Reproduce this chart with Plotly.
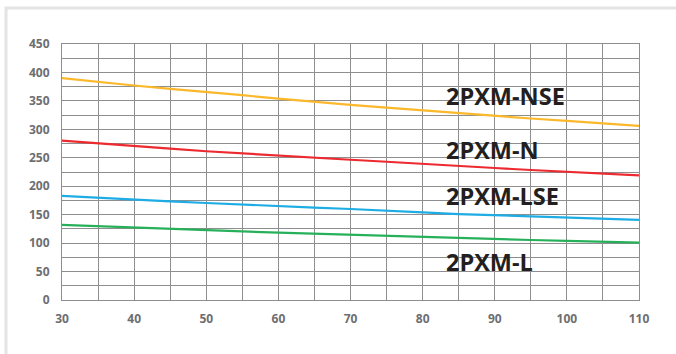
import plotly.graph_objects as go

x_vals = [30, 35, 40, 45, 50, 55, 60, 65, 70, 75, 80, 85, 90, 95, 100, 105, 110]
nse = [390, 383, 377, 371, 366, 360, 354, 348, 343, 338, 333, 328, 323, 319, 315, 310, 306]
n = [280, 275, 270.5, 266, 261.5, 257.5, 253.5, 250, 246.5, 243, 239, 235.5, 232, 228.5, 225.5, 222, 219]
lse = [183, 179.5, 176.5, 173.5, 170.5, 167.5, 165, 162.5, 160, 157.5, 154, 151, 149, 147, 145, 143, 141]
l = [132, 129.5, 127, 124.5, 122.5, 120.5, 118.5, 116.5, 114.5, 113, 111, 109, 107, 105.5, 104, 102.5, 101]

series_names = ["2PXM-NSE", "2PXM-N", "2PXM-LSE", "2PXM-L"]
series_vals = [nse, n, lse, l]
series_colors = ["#FBB82B", "#EC2A2F", "#1DADE4", "#27B05A"]
label_y = [359, 264, 183, 66]
label_x = 83.0

x_ticks = [30, 40, 50, 60, 70, 80, 90, 100, 110]
y_ticks = [0, 50, 100, 150, 200, 250, 300, 350, 400, 450]

fig = go.Figure()
for name, vals, col in zip(series_names, series_vals, series_colors):
    fig.add_trace(go.Scatter(x=x_vals, y=vals, mode="lines", name=name,
                             line=dict(color=col, width=2.2), showlegend=False,
                             hoverinfo="skip"))

for name, ly in zip(series_names, label_y):
    fig.add_annotation(x=label_x, y=ly, text=name, showarrow=False, xanchor="left",
                       yanchor="middle",
                       font=dict(family="Open Sans", size=23.5, color="#231F20", weight="bold"))

# card border
fig.add_shape(type="rect", xref="paper", yref="paper",
              x0=-0.097, x1=1.2, y0=-0.3, y1=1.141,
              line=dict(color="#E4E4E4", width=3), layer="below")

fig.update_layout(
    width=676, height=354,
    margin=dict(l=62, r=37, t=44, b=54),
    paper_bgcolor="white", plot_bgcolor="white",
    font=dict(family="Open Sans", color="#6D6E71"),
)
fig.update_xaxes(range=[30, 110], tickvals=x_ticks, ticktext=[str(v) for v in x_ticks],
                 showgrid=True, gridcolor="#8E8E8E", gridwidth=1,
                 minor=dict(dtick=5, showgrid=True, gridcolor="#8E8E8E", gridwidth=1),
                 showline=True, linecolor="#8E8E8E", linewidth=1, mirror=True,
                 zeroline=False, ticks="", ticklabelstandoff=8,
                 tickfont=dict(family="Open Sans", size=12, color="#6D6E71", weight="bold"))
fig.update_yaxes(range=[0, 450], tickvals=y_ticks, ticktext=[str(v) for v in y_ticks],
                 showgrid=True, gridcolor="#8E8E8E", gridwidth=1,
                 minor=dict(dtick=25, showgrid=True, gridcolor="#8E8E8E", gridwidth=1),
                 showline=True, linecolor="#8E8E8E", linewidth=1, mirror=True,
                 zeroline=False, ticks="", ticklabelstandoff=9,
                 tickfont=dict(family="Open Sans", size=12, color="#6D6E71", weight="bold"))

fig.write_html("out.html", config={"displayModeBar": False},
               post_script="document.body.style.margin='0';document.body.style.overflow='hidden';")
